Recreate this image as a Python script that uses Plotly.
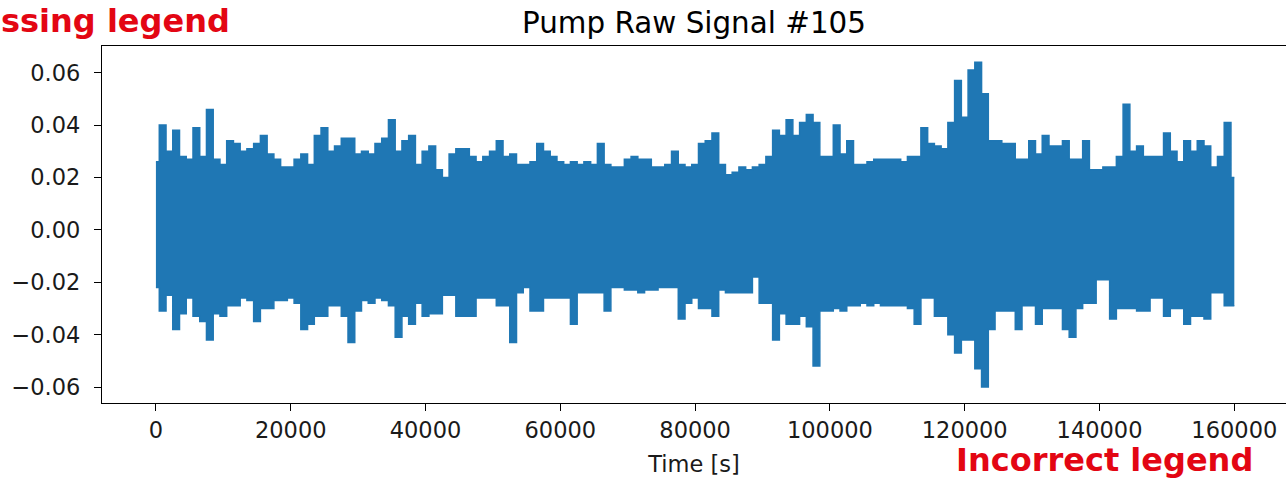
import plotly.graph_objects as go

# Sample times of the envelope readings (seconds), every 1000 s from 0 to 160000
TIME_S = list(range(0, 160001, 1000))

# Upper envelope of the raw signal (one value per 1000 s)
UPPER = [
    0.026, 0.040, 0.030, 0.038, 0.028, 0.027, 0.039, 0.028, 0.046, 0.027,
    0.025, 0.034, 0.033, 0.030, 0.031, 0.033, 0.036, 0.029, 0.027, 0.024,
    0.024, 0.027, 0.029, 0.025, 0.036, 0.039, 0.030, 0.032, 0.035, 0.035,
    0.029, 0.030, 0.029, 0.033, 0.035, 0.042, 0.030, 0.034, 0.036, 0.025,
    0.030, 0.032, 0.023, 0.020, 0.029, 0.031, 0.031, 0.028, 0.026, 0.028,
    0.030, 0.034, 0.028, 0.029, 0.025, 0.025, 0.026, 0.033, 0.030, 0.028,
    0.026, 0.025, 0.026, 0.025, 0.026, 0.025, 0.033, 0.025, 0.024, 0.024,
    0.027, 0.028, 0.027, 0.027, 0.024, 0.024, 0.025, 0.030, 0.025, 0.024,
    0.025, 0.033, 0.034, 0.037, 0.025, 0.021, 0.022, 0.024, 0.023, 0.024,
    0.025, 0.028, 0.038, 0.036, 0.042, 0.036, 0.041, 0.044, 0.041, 0.028,
    0.028, 0.040, 0.029, 0.034, 0.025, 0.025, 0.026, 0.027, 0.027, 0.027,
    0.027, 0.026, 0.028, 0.028, 0.039, 0.033, 0.032, 0.031, 0.041, 0.057,
    0.043, 0.061, 0.064, 0.052, 0.034, 0.034, 0.033, 0.033, 0.027, 0.027,
    0.034, 0.029, 0.036, 0.032, 0.032, 0.034, 0.027, 0.027, 0.034, 0.023,
    0.023, 0.024, 0.024, 0.028, 0.048, 0.030, 0.032, 0.028, 0.028, 0.028,
    0.037, 0.030, 0.026, 0.034, 0.030, 0.034, 0.032, 0.024, 0.028, 0.041,
    0.020,
]

# Lower envelope of the raw signal (one value per 1000 s)
LOWER = [
    -0.022, -0.031, -0.025, -0.038, -0.032, -0.026, -0.033, -0.035, -0.042, -0.032,
    -0.033, -0.029, -0.029, -0.026, -0.027, -0.035, -0.030, -0.030, -0.027, -0.027,
    -0.026, -0.028, -0.038, -0.036, -0.033, -0.033, -0.029, -0.029, -0.033, -0.043,
    -0.031, -0.027, -0.028, -0.026, -0.027, -0.029, -0.041, -0.033, -0.036, -0.028,
    -0.033, -0.032, -0.032, -0.025, -0.025, -0.033, -0.033, -0.033, -0.026, -0.026,
    -0.026, -0.029, -0.029, -0.043, -0.024, -0.022, -0.031, -0.031, -0.026, -0.026,
    -0.026, -0.026, -0.036, -0.024, -0.024, -0.024, -0.024, -0.031, -0.022, -0.022,
    -0.023, -0.023, -0.024, -0.023, -0.023, -0.022, -0.022, -0.022, -0.034, -0.028,
    -0.026, -0.030, -0.030, -0.033, -0.023, -0.024, -0.024, -0.024, -0.024, -0.018,
    -0.028, -0.028, -0.042, -0.032, -0.036, -0.036, -0.033, -0.037, -0.052, -0.031,
    -0.031, -0.030, -0.031, -0.029, -0.029, -0.028, -0.029, -0.028, -0.029, -0.029,
    -0.029, -0.029, -0.030, -0.036, -0.026, -0.026, -0.033, -0.033, -0.040, -0.047,
    -0.042, -0.042, -0.053, -0.060, -0.038, -0.031, -0.031, -0.031, -0.038, -0.029,
    -0.029, -0.036, -0.030, -0.030, -0.030, -0.038, -0.041, -0.030, -0.028, -0.028,
    -0.019, -0.019, -0.034, -0.030, -0.030, -0.030, -0.031, -0.031, -0.026, -0.026,
    -0.033, -0.030, -0.030, -0.036, -0.033, -0.033, -0.034, -0.024, -0.024, -0.029,
    -0.029,
]

X_TICKS = [0, 20000, 40000, 60000, 80000, 100000, 120000, 140000, 160000]
Y_TICKS = [-0.06, -0.04, -0.02, 0.0, 0.02, 0.04, 0.06]
Y_TICK_TEXT = ["\u22120.06", "\u22120.04", "\u22120.02", "0.00", "0.02", "0.04", "0.06"]

TITLE = "Pump Raw Signal #105"
X_LABEL = "Time [s]"
NOTE_TOP = "ssing legend"
NOTE_BOTTOM = "Incorrect legend"

BLUE = "#1f77b4"
RED = "#e30613"
FONT = "DejaVu Sans"
NOTE_FONT = "DejaVu Sans"

fig = go.Figure()
fig.add_trace(go.Scatter(
    x=TIME_S, y=LOWER, mode="lines",
    line=dict(color=BLUE, width=1.5, shape="hvh"),
    showlegend=False, hoverinfo="skip",
))
fig.add_trace(go.Scatter(
    x=TIME_S, y=UPPER, mode="lines",
    line=dict(color=BLUE, width=1.5, shape="hvh"),
    fill="tonexty", fillcolor=BLUE,
    showlegend=False, hoverinfo="skip",
))

W, H = 1286, 480
ML, MR, MT, MB = 102, 0, 46, 77
plot_w = W - ML - MR
plot_h = H - MT - MB
px_per_unit_x = 6.74 / 1000.0
x_lo = -8000
x_hi = x_lo + plot_w / px_per_unit_x

fig.update_layout(
    width=W, height=H,
    margin=dict(l=ML, r=MR, t=MT, b=MB, pad=0, autoexpand=False),
    paper_bgcolor="white", plot_bgcolor="white",
    font=dict(family=FONT, size=22.5, color="#000000"),
    showlegend=False,
    title=dict(
        text=TITLE, x=0.5, xref="paper", xanchor="center",
        y=1 - 12 / H, yanchor="top",
        font=dict(family=FONT, size=29.4, color="#000000"),
    ),
)

fig.update_xaxes(
    range=[x_lo, x_hi], automargin=False,
    tickmode="array", tickvals=X_TICKS, ticktext=[str(v) for v in X_TICKS],
    ticks="outside", ticklen=7, tickwidth=1.3, tickcolor="#000000",
    showline=True, linecolor="#000000", linewidth=1.3, mirror=True,
    showgrid=False, zeroline=False,
    tickfont=dict(family=FONT, size=22.5, color="#1a1a1a"),
    title=dict(text=X_LABEL, font=dict(family=FONT, size=22.5, color="#1a1a1a"), standoff=14),
)
fig.update_yaxes(
    range=[-0.0661, 0.0702], automargin=False,
    tickmode="array", tickvals=Y_TICKS, ticktext=Y_TICK_TEXT,
    ticks="outside", ticklen=7, tickwidth=1.3, tickcolor="#000000",
    showline=True, linecolor="#000000", linewidth=1.3, mirror=False,
    showgrid=False, zeroline=False,
    tickfont=dict(family=FONT, size=22.5, color="#1a1a1a"),
    ticklabelstandoff=9,
)

def px_to_paper(px, py):
    return (px - ML) / plot_w, (H - MB - py) / plot_h

ax, ay = px_to_paper(0, 1)
fig.add_annotation(
    text="<b>" + NOTE_TOP + "</b>", xref="paper", yref="paper",
    x=ax, y=ay, xanchor="left", yanchor="top", showarrow=False,
    font=dict(family=NOTE_FONT, size=32, color=RED),
    borderpad=0,
)
bx, by = px_to_paper(955, 480)
fig.add_annotation(
    text="<b>" + NOTE_BOTTOM + "</b>", xref="paper", yref="paper",
    x=bx, y=by, xanchor="left", yanchor="bottom", showarrow=False,
    font=dict(family=NOTE_FONT, size=32, color=RED),
    borderpad=0,
)

fig.write_html(
    "out.html",
    config={"displayModeBar": False},
    post_script="document.body.style.margin='0';document.body.style.overflow='hidden';",
)
